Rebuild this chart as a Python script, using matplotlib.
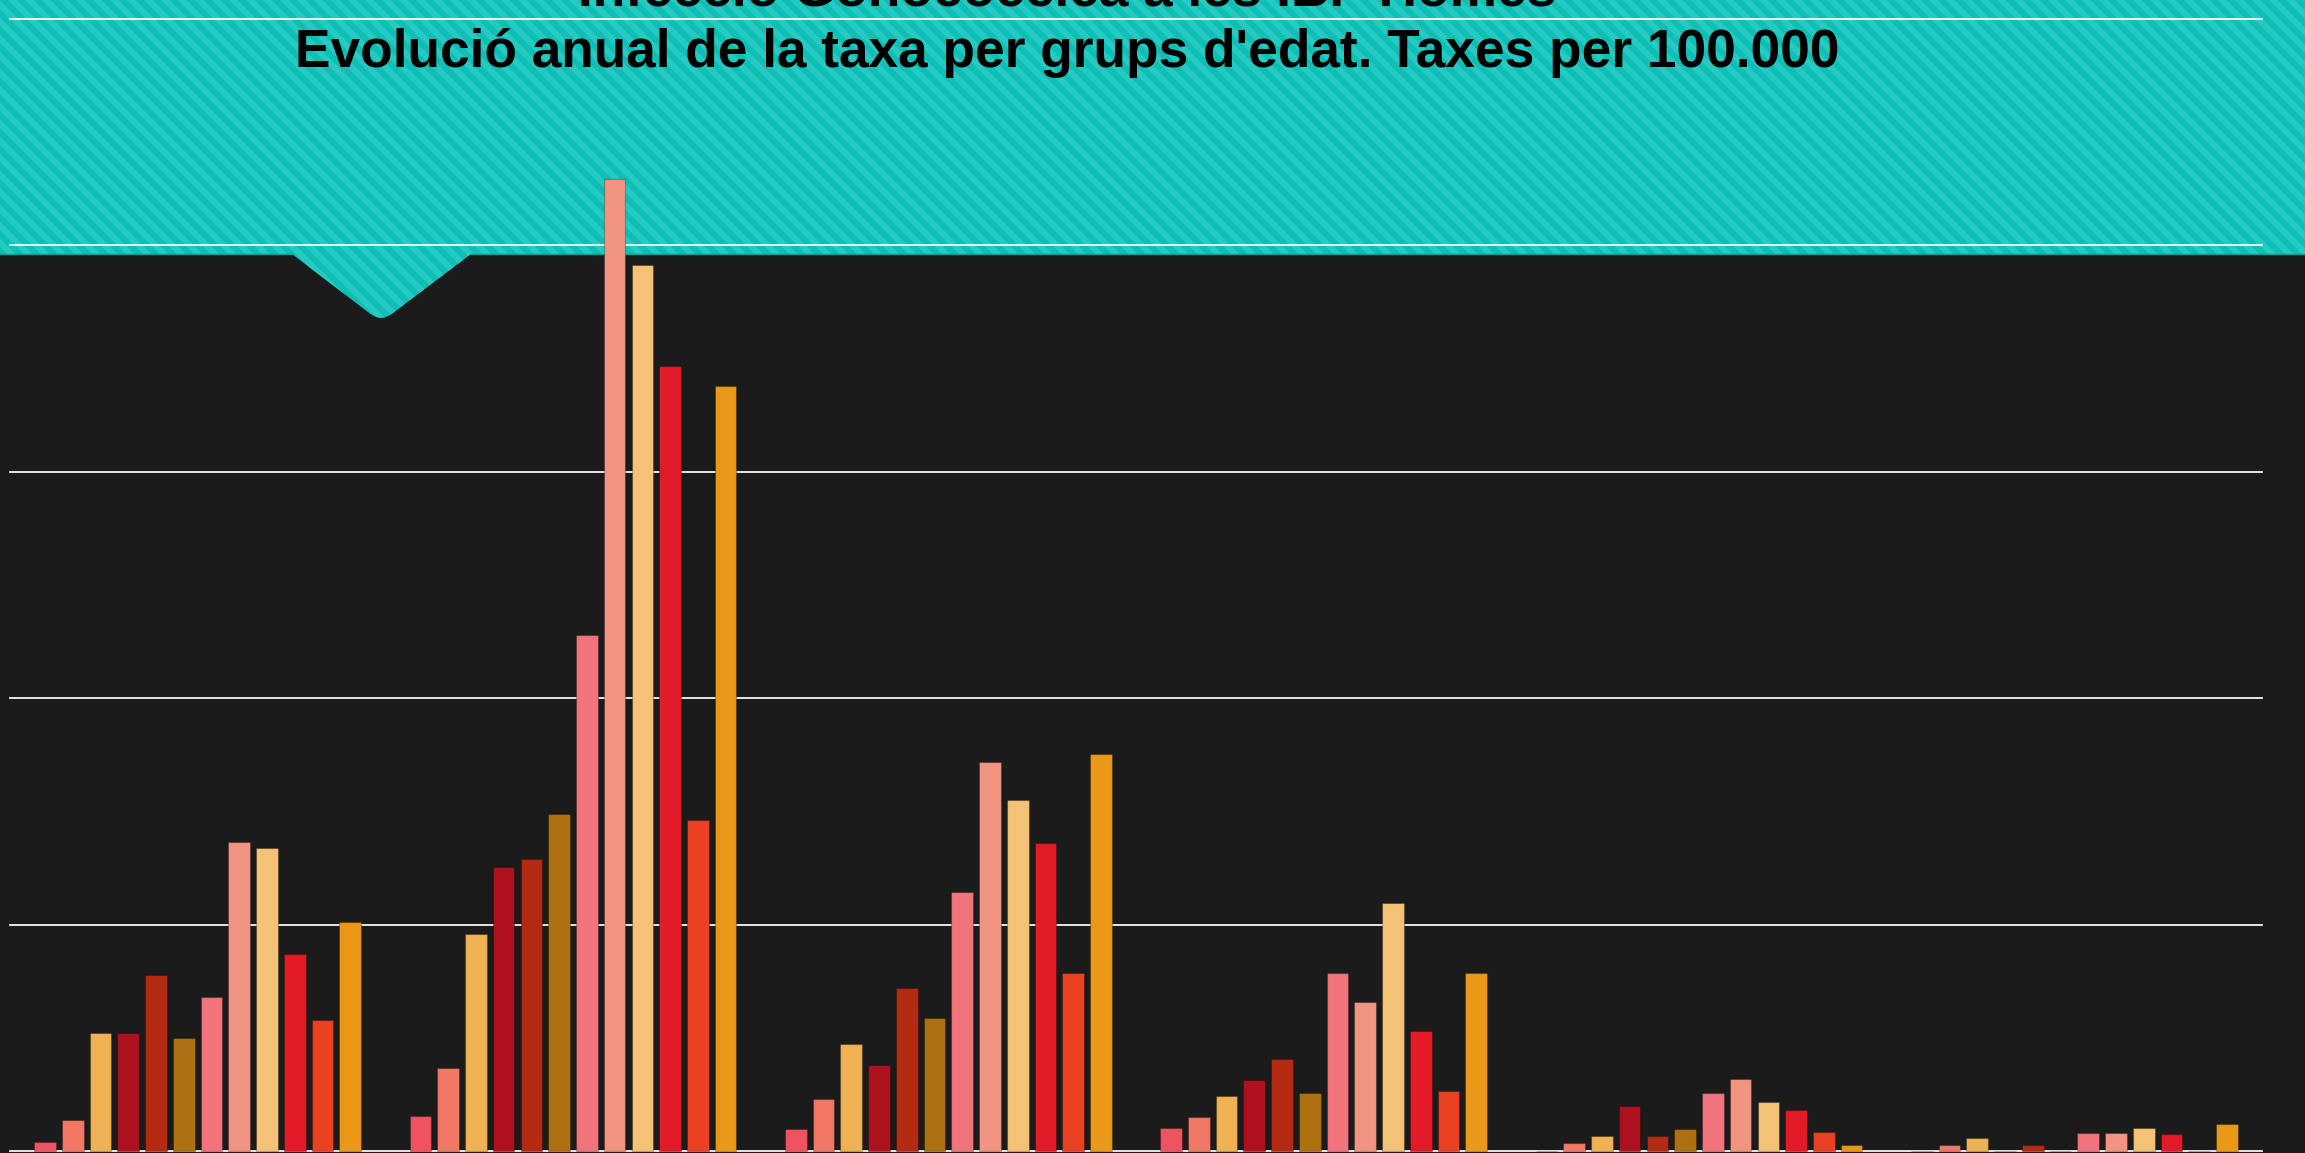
import matplotlib
matplotlib.use("Agg")
import matplotlib.pyplot as plt
import numpy as np
from matplotlib.path import Path
from matplotlib.patches import PathPatch, Polygon

# ---------------- data ----------------
age_groups = ["G1", "G2", "G3", "G4", "G5", "G6"]
years = ["2012", "2013", "2014", "2015", "2016", "2017",
         "2018", "2019", "2020", "2021", "2022", "2023"]
g1 = [3.8, 13.6, 52.0, 52.1, 77.6, 49.8, 67.9, 136.3, 133.7, 87.2, 58.0, 101.1]
g2 = [15.6, 36.7, 95.7, 125.4, 128.8, 148.7, 228.0, 429.3, 391.5, 346.8, 146.0, 337.7]
g3 = [9.6, 23.0, 47.1, 37.8, 72.1, 58.9, 114.2, 172.0, 155.2, 135.9, 78.5, 175.2]
g4 = [10.0, 14.9, 24.1, 31.2, 40.6, 25.8, 78.8, 65.7, 109.7, 53.0, 26.5, 78.5]
g5 = [0.0, 3.4, 6.6, 19.9, 6.6, 9.7, 25.6, 31.7, 21.6, 18.0, 8.5, 2.6]
g6 = [0.0, 2.6, 5.6, 0.0, 2.6, 0.0, 7.9, 7.9, 10.2, 7.5, 0.0, 11.9]
y_ticks = [0, 100, 200, 300, 400, 500]

title_1 = "Infecció Gonocòccica a les IBP Homes"
title_2 = "Evolució anual de la taxa per grups d'edat. Taxes per 100.000"

colors = ["#EF5360", "#F07864", "#EEB153", "#AE121F", "#B52A12", "#AE7112",
          "#F1737C", "#F29482", "#F4C277", "#E31A27", "#EA4123", "#EA9818"]

values = np.array([g1, g2, g3, g4, g5, g6])

# ---------------- figure ----------------
W, H = 2305, 1153
fig = plt.figure(figsize=(W / 100, H / 100), dpi=100)
fig.patch.set_facecolor("#1B1B1B")

# background / header layer in pixel coordinates
bg = fig.add_axes([0, 0, 1, 1], zorder=0)
bg.set_xlim(0, W)
bg.set_ylim(H, 0)
bg.axis("off")

band_bottom = 254
tip = (381, 322)
lft = (292, band_bottom)
rgt = (471, band_bottom)
def toward(p, q, d):
    v = np.array(q) - np.array(p)
    L = np.hypot(*v)
    return tuple(np.array(q) - v / L * d)
pl = toward(lft, tip, 14)
pr = toward(rgt, tip, 14)
verts = [(0, 0), (W, 0), (W, band_bottom), rgt, pr, tip, pl, lft,
         (0, band_bottom), (0, 0)]
codes = [Path.MOVETO, Path.LINETO, Path.LINETO, Path.LINETO, Path.LINETO,
         Path.CURVE3, Path.CURVE3, Path.LINETO, Path.LINETO, Path.CLOSEPOLY]
hpath = Path(verts, codes)
header = PathPatch(hpath, facecolor="#0DBFB4", edgecolor="none", zorder=1)
bg.add_patch(header)

# diagonal stripes "\" direction
period = 17.0
sw = period / 2
for x0 in np.arange(-400, W + 400, period):
    poly = Polygon([(x0, 0), (x0 + sw, 0), (x0 + sw + 340, 340), (x0 + 340, 340)],
                   closed=True, facecolor="#26CAC2", edgecolor="none", zorder=2)
    bg.add_patch(poly)
    poly.set_clip_path(header)
bg.plot([0, lft[0]], [band_bottom, band_bottom], color="#0A9E95", lw=1, zorder=3)
bg.plot([rgt[0], W], [band_bottom, band_bottom], color="#0A9E95", lw=1, zorder=3)

# ---------------- main chart ----------------
left_px, right_px, top_px, base_px = 10, 2262, 19, 1151
ax = fig.add_axes([left_px / W, (H - base_px) / H,
                   (right_px - left_px) / W, (base_px - top_px) / H], zorder=2)
ax.patch.set_alpha(0)
ax.set_xlim(-0.5, len(age_groups) - 0.5)
ax.set_ylim(y_ticks[0], y_ticks[-1])
for s in ax.spines.values():
    s.set_visible(False)
ax.set_xticks([])
ax.set_yticks([])

for t in y_ticks:
    ax.axhline(t, color="white", lw=1.25, zorder=1, clip_on=False)

pitch = 0.07394
bw = 0.0578
x = np.arange(len(age_groups))
n = len(years)
for j in range(n):
    ax.bar(x + (j - (n - 1) / 2) * pitch, values[:, j], width=bw,
           color=colors[j], edgecolor=(0, 0, 0, 0.25), linewidth=0.8,
           zorder=3, clip_on=False, label=years[j])

# ---------------- titles ----------------
cx = 1067 / W
t2 = fig.text(cx, (H - 66.7) / H, title_2, ha="center", va="baseline",
              fontsize=38, fontweight="bold", family="Liberation Sans",
              color="black", zorder=10)
fig.canvas.draw()
r = fig.canvas.get_renderer()
w = t2.get_window_extent(r).width
fs = 38 * 1544 / w
t2.set_fontsize(fs)
t1 = fig.text(cx, (H - 5) / H, title_1, ha="center", va="baseline",
              fontsize=fs, fontweight="bold", family="Liberation Sans",
              color="black", zorder=10)

fig.savefig("out.png", dpi=100, facecolor=fig.get_facecolor())
